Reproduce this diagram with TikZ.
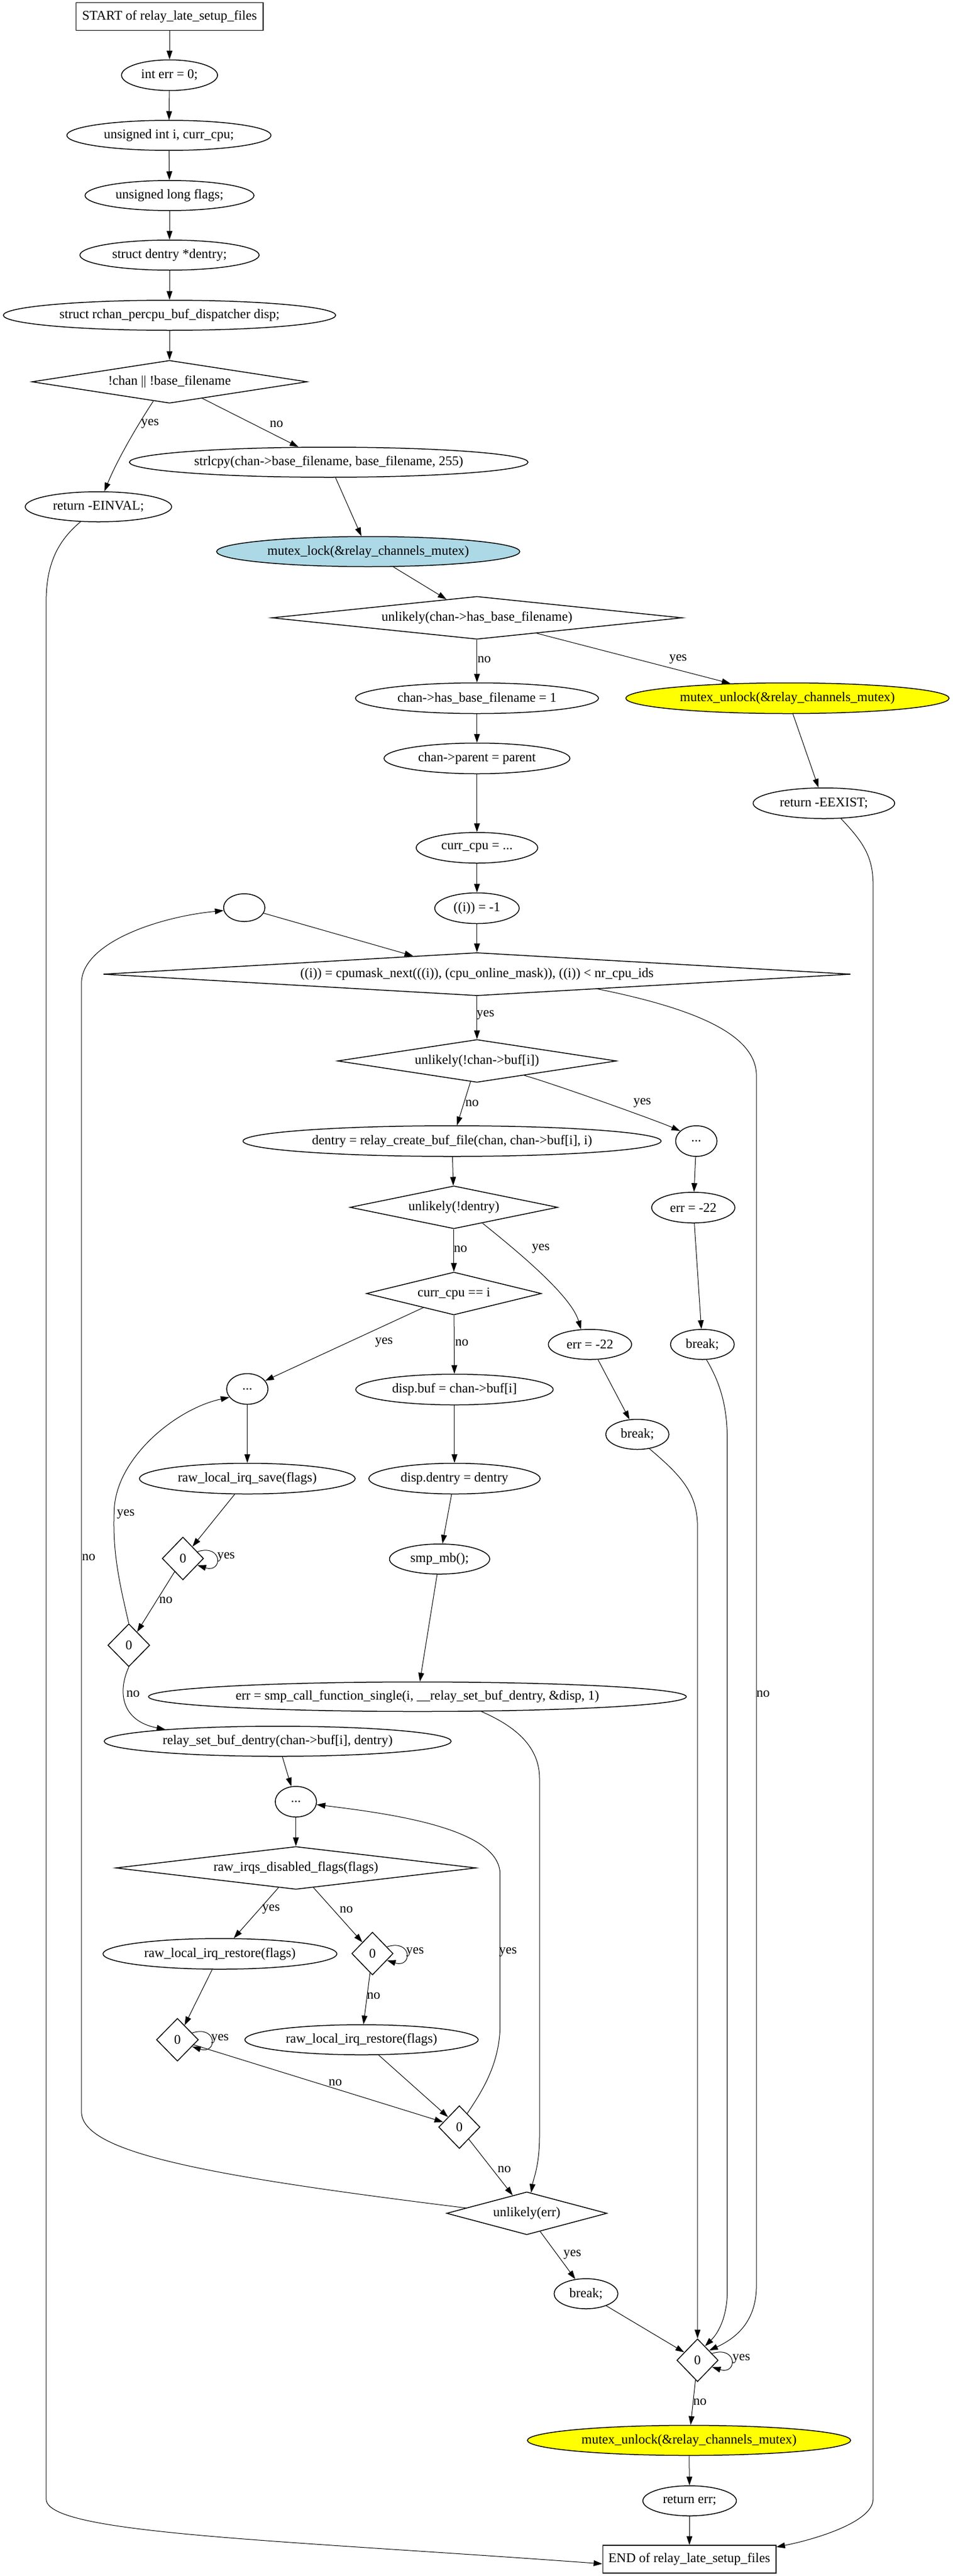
\documentclass[tikz,border=0pt]{standalone}
\usepackage{fontspec}
\setmainfont{Liberation Serif}
\usetikzlibrary{shapes.geometric,arrows.meta}
\definecolor{lblue}{HTML}{ADD8E6}
\definecolor{gyellow}{HTML}{FFFF00}
\begin{document}
\begin{tikzpicture}[x=1.0507pt,y=-1pt,
  every node/.style={font=\fontsize{23}{27}\selectfont},
  proc/.style={ellipse,draw,line width=1.5pt,inner sep=0pt},
  dec/.style={diamond,draw,line width=1.5pt,inner sep=0pt},
  box/.style={rectangle,draw,line width=1.5pt,inner sep=0pt},
  lbl/.style={inner sep=0pt},
  arr/.style={-{Triangle[length=15pt,width=10pt]},line width=1pt},
  sz/.style 2 args={minimum width={#1*1.0507pt},minimum height=#2pt},
]
\fill[white] (0,0) rectangle (1567.6,4453);
\useasboundingbox (0,0) rectangle (1567.6,4453);

% nodes
\node[box,sz={308}{48}] (start) at (279,28.6) {START of relay\_late\_setup\_files};
\node[proc,sz={158}{53}] (interr) at (279,130) {int err = 0;};
\node[proc,sz={336}{52}] (uint) at (278,234) {unsigned int i, curr\_cpu;};
\node[proc,sz={278}{52}] (ulong) at (279,338) {unsigned long flags;};
\node[proc,sz={295}{52}] (sdent) at (279,441) {struct dentry *dentry;};
\node[proc,sz={547}{52}] (sdisp) at (279,545) {struct rchan\_percpu\_buf\_dispatcher disp;};
\node[dec,sz={453}{74},aspect=6.43] (d1) at (279,660) {!chan || !base\_filename};
\node[proc,sz={656}{52}] (strl) at (541,799) {strlcpy(chan->base\_filename, base\_filename, 255)};
\node[proc,sz={241}{52}] (einval) at (162,876) {return -EINVAL;};
\node[proc,sz={499}{52},fill=lblue] (mlock) at (606,953.5) {mutex\_lock(\&relay\_channels\_mutex)};
\node[dec,sz={676}{74},aspect=9.6] (d2) at (785,1068) {unlikely(chan->has\_base\_filename)};
\node[proc,sz={400}{53}] (hasbase) at (785,1207) {chan->has\_base\_filename = 1};
\node[proc,sz={532}{53},fill=gyellow] (unlock1) at (1296,1207) {mutex\_unlock(\&relay\_channels\_mutex)};
\node[proc,sz={306}{53}] (parent) at (785,1311) {chan->parent = parent};
\node[proc,sz={233}{53}] (eexist) at (1356,1388.5) {return -EEXIST;};
\node[proc,sz={200}{53}] (currcpu) at (785,1465.5) {curr\_cpu = ...};
\node[proc,sz={139}{53}] (iinit) at (785,1570) {((i)) = -1};
\node[proc,sz={68}{48}] (empty) at (402,1569) {};
\node[dec,sz={1230}{74.5},aspect=17.3] (loopd) at (785,1684) {((i)) = cpumask\_next(((i)), (cpu\_online\_mask)), ((i)) < nr\_cpu\_ids};
\node[dec,sz={459}{74},aspect=6.5] (dbuf) at (785,1834) {unlikely(!chan->buf[i])};
\node[proc,sz={688}{53}] (dentry) at (744,1972.5) {dentry = relay\_create\_buf\_file(chan, chan->buf[i], i)};
\node[proc,sz={68}{53}] (dots1) at (1146,1972.5) {...};
\node[proc,sz={137}{53}] (err1) at (1141,2087.5) {err = -22};
\node[proc,sz={105}{52}] (brk1) at (1156,2324) {break;};
\node[dec,sz={342}{74},aspect=4.85] (dden) at (747,2087) {unlikely(!dentry)};
\node[dec,sz={288}{74},aspect=4.09] (currd) at (747,2236) {curr\_cpu == i};
\node[proc,sz={137}{52}] (err2) at (971,2324) {err = -22};
\node[proc,sz={68}{53}] (dots2) at (407,2401) {...};
\node[proc,sz={325}{53}] (dispbuf) at (748,2402) {disp.buf = chan->buf[i]};
\node[proc,sz={104}{52}] (brk2) at (1049,2479.5) {break;};
\node[proc,sz={355}{53}] (irqsave) at (407,2556) {raw\_local\_irq\_save(flags)};
\node[proc,sz={282}{53}] (dispden) at (748,2556) {disp.dentry = dentry};
\node[dec,sz={68}{74},aspect=0.97] (z1) at (301,2694) {0};
\node[proc,sz={165}{52}] (smpmb) at (723.5,2695) {smp\_mb();};
\node[dec,sz={69}{74},aspect=0.97] (z2) at (212,2844) {0};
\node[proc,sz={885}{51}] (errcall) at (687,2933) {err = smp\_call\_function\_single(i, \_\_relay\_set\_buf\_dentry, \&disp, 1)};
\node[proc,sz={571}{52}] (relayset) at (457,3010) {relay\_set\_buf\_dentry(chan->buf[i], dentry)};
\node[proc,sz={68}{53}] (dots3) at (487,3114.5) {...};
\node[dec,sz={593}{74},aspect=8.4] (irqd) at (487,3229) {raw\_irqs\_disabled\_flags(flags)};
\node[proc,sz={385}{53}] (restore1) at (362,3377.5) {raw\_local\_irq\_restore(flags)};
\node[dec,sz={68}{74},aspect=0.97] (z3) at (613,3377) {0};
\node[proc,sz={384}{52}] (restore2) at (595,3526) {raw\_local\_irq\_restore(flags)};
\node[dec,sz={69}{74},aspect=0.97] (z4) at (292,3526) {0};
\node[dec,sz={68}{74},aspect=0.97] (z5) at (756,3677) {0};
\node[dec,sz={264}{74},aspect=3.75] (uerr) at (867,3826) {unlikely(err)};
\node[proc,sz={105}{52}] (brk3) at (964.5,3965) {break;};
\node[dec,sz={68}{74},aspect=0.97] (zfinal) at (1148,4080) {0};
\node[proc,sz={532}{52},fill=gyellow] (unlock2) at (1134,4218.5) {mutex\_unlock(\&relay\_channels\_mutex)};
\node[proc,sz={154}{52}] (reterr) at (1135,4323) {return err;};
\node[box,sz={285}{48}] (end) at (1134.5,4424) {END of relay\_late\_setup\_files};

% edges
\draw[arr] (start) -- (interr);
\draw[arr] (interr) -- (uint);
\draw[arr] (uint) -- (ulong);
\draw[arr] (ulong) -- (sdent);
\draw[arr] (sdent) -- (sdisp);
\draw[arr] (sdisp) -- (d1);
\draw[arr] (d1.230) .. controls (220,745) and (191,800) .. (einval.69);
\draw[arr] (d1) -- (strl);
\draw[arr] (strl) -- (mlock);
\draw[arr] (mlock) -- (d2);
\draw[arr] (d2) -- (hasbase);
\draw[arr] (d2) -- (unlock1);
\draw[arr] (hasbase) -- (parent);
\draw[arr] (unlock1) -- (eexist);
\draw[arr] (parent) -- (currcpu);
\draw[arr] (currcpu) -- (iinit);
\draw[arr] (iinit) -- (loopd);
\draw[arr] (empty) -- (loopd);
\draw[arr] (loopd) -- (dbuf);
\draw[arr] (dbuf) -- (dentry);
\draw[arr] (dbuf.-17) .. controls (913,1874) and (1083,1938) .. (dots1.148);
\draw[arr] (dots1) -- (err1);
\draw[arr] (err1) -- (brk1);
\draw[arr] (dentry) -- (dden);
\draw[arr] (dden) -- (currd);
\draw[arr] (dden.-29) .. controls (842,2155) and (940,2238) .. (err2.121);
\draw[arr] (currd) -- (dots2);
\draw[arr] (currd) -- (dispbuf);
\draw[arr] (err2) -- (brk2);
\draw[arr] (dispbuf) -- (dispden);
\draw[arr] (dots2) -- (irqsave);
\draw[arr] (irqsave) -- (z1);
\draw[arr] (z1.25) .. controls +(42,-14) and +(42,14) .. (z1.-25);
\draw[arr] (z1) -- (z2);
\draw[arr] (z2.north) .. controls (195,2730) and (185,2680) .. (188,2610) .. controls (191,2520) and (290,2435) .. (dots2.205);
\draw[arr] (z2.south) .. controls (193,2925) and (200,2975) .. (relayset.174);
\draw[arr] (dispden) -- (smpmb);
\draw[arr] (smpmb) -- (errcall);
\draw[arr] (errcall.-13) .. controls (850,2985) and (888,3020) .. (888,3075) -- (888,3690) .. controls (888,3745) and (878,3765) .. (uerr.78);
\draw[arr] (relayset) -- (dots3);
\draw[arr] (dots3) -- (irqd);
\draw[arr] (irqd) -- (restore1);
\draw[arr] (irqd) -- (z3);
\draw[arr] (z3.25) .. controls +(42,-14) and +(42,14) .. (z3.-25);
\draw[arr] (z3) -- (restore2);
\draw[arr] (restore1) -- (z4);
\draw[arr] (z4.25) .. controls +(42,-14) and +(42,14) .. (z4.-25);
\draw[arr] (z4) -- (z5);
\draw[arr] (restore2) -- (z5);
\draw[arr] (z5.60) .. controls (790,3620) and (823,3570) .. (823,3500) -- (823,3240) .. controls (823,3160) and (640,3135) .. (dots3.-8);
\draw[arr] (z5) -- (uerr);
\draw[arr] (uerr.175) .. controls (330,3760) and (134,3720) .. (134,3650) -- (134,1700) .. controls (134,1630) and (260,1585) .. (empty.188);
\draw[arr] (uerr) -- (brk3);
\draw[arr] (brk3) -- (zfinal);
\draw[arr] (loopd.-7.5) .. controls (1150,1745) and (1245,1790) .. (1245,1860) -- (1245,3950) .. controls (1245,4010) and (1215,4040) .. (zfinal.40);
\draw[arr] (brk1.-75) .. controls (1185,2390) and (1197,2430) .. (1197,2490) -- (1197,3960) .. controls (1197,4000) and (1185,4030) .. (zfinal.62);
\draw[arr] (brk2.-50) .. controls (1120,2550) and (1148,2580) .. (1148,2640) -- (zfinal.north);
\draw[arr] (zfinal.25) .. controls +(42,-14) and +(42,14) .. (zfinal.-25);
\draw[arr] (zfinal) -- (unlock2);
\draw[arr] (unlock2) -- (reterr);
\draw[arr] (reterr) -- (end);
\draw[arr] (einval.220) .. controls (95,935) and (76,975) .. (76,1040) -- (76,4320) .. controls (76,4380) and (450,4390) .. (end.183);
\draw[arr] (eexist.-42) .. controls (1420,1455) and (1437,1480) .. (1437,1530) -- (1437,4320) .. controls (1437,4360) and (1340,4390) .. (end.8);

% edge labels
\node[lbl] (l1) at (247,733) {yes};
\node[lbl] (l2) at (455,733) {no};
\node[lbl] (l3) at (797,1140) {no};
\node[lbl] (l4) at (1116,1140) {yes};
\node[lbl] (l5) at (799,1755) {yes};
\node[lbl] (l6) at (777,1907) {no};
\node[lbl] (l7) at (1057,1907) {yes};
\node[lbl] (l8) at (758,2159) {no};
\node[lbl] (l9) at (890,2159) {yes};
\node[lbl] (l10) at (632,2321) {yes};
\node[lbl] (l11) at (760,2321) {no};
\node[lbl] (l12) at (372,2692) {yes};
\node[lbl] (l13) at (273,2766) {no};
\node[lbl] (l14) at (207,2618) {yes};
\node[lbl] (l15) at (146,2692) {no};
\node[lbl] (l16) at (219,2928) {no};
\node[lbl] (l17) at (1256,2928) {no};
\node[lbl] (l18) at (446,3301) {yes};
\node[lbl] (l19) at (570,3301) {no};
\node[lbl] (l20) at (683,3375) {yes};
\node[lbl] (l21) at (836,3375) {yes};
\node[lbl] (l22) at (615,3450) {no};
\node[lbl] (l23) at (362,3525) {yes};
\node[lbl] (l24) at (552,3600) {no};
\node[lbl] (l25) at (830,3750) {no};
\node[lbl] (l26) at (942,3898) {yes};
\node[lbl] (l27) at (1220,4078) {yes};
\node[lbl] (l28) at (1152,4152) {no};
\end{tikzpicture}
\end{document}
